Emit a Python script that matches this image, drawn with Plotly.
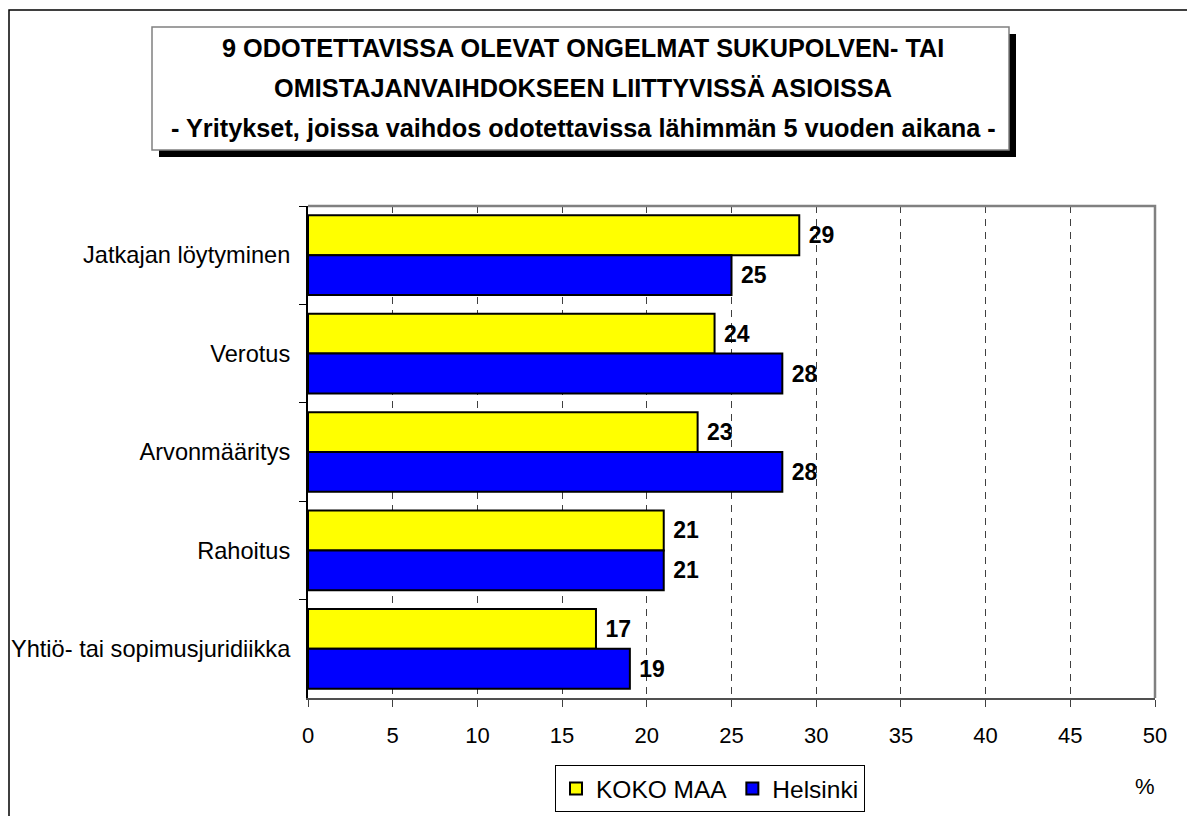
import plotly.graph_objects as go

categories = ["Jatkajan löytyminen", "Verotus", "Arvonmääritys", "Rahoitus", "Yhtiö- tai sopimusjuridiikka"]
koko_maa = [29, 24, 23, 21, 17]
helsinki = [25, 28, 28, 21, 19]
series_names = ["KOKO MAA", "Helsinki"]
title_lines = [
    "9 ODOTETTAVISSA OLEVAT ONGELMAT SUKUPOLVEN- TAI",
    "OMISTAJANVAIHDOKSEEN LIITTYVISSÄ ASIOISSA",
    "- Yritykset, joissa vaihdos odotettavissa lähimmän 5 vuoden aikana -",
]
x_ticks = list(range(0, 55, 5))

FONT = "Liberation Sans, Arial, sans-serif"
OFF = 8  # default page body margin
W, H = 1195 - OFF, 816 - OFF
# plot area in page pixels
L, R, T, B = 308, 1155, 206, 698


def px(x):
    return (x - L) / (R - L)


def py(y):
    return (B - y) / (B - T)


fig = go.Figure()
for name, vals, col in [(series_names[0], koko_maa, "#FFFF00"), (series_names[1], helsinki, "#0000FF")]:
    fig.add_trace(go.Bar(
        y=categories, x=vals, name=name, orientation="h",
        marker=dict(color=col, line=dict(color="black", width=2)),
        text=vals, texttemplate=" %{x}", textposition="outside",
        textfont=dict(family=FONT, size=23, color="black", weight="bold"),
        constraintext="none", cliponaxis=False,
    ))

shapes = [
    # outer chart border
    dict(type="rect", xref="paper", yref="paper", x0=px(9), x1=px(1191), y0=py(830), y1=py(10),
         line=dict(color="black", width=1.5), fillcolor="rgba(0,0,0,0)", layer="below"),
    # title shadow
    dict(type="rect", xref="paper", yref="paper", x0=px(159), x1=px(1016), y0=py(157), y1=py(34),
         line=dict(width=0), fillcolor="black", layer="below"),
    # title box
    dict(type="rect", xref="paper", yref="paper", x0=px(152), x1=px(1009), y0=py(150), y1=py(27),
         line=dict(color="#808080", width=1.5), fillcolor="white", layer="below"),
    # plot area top/right border
    dict(type="path", xref="paper", yref="paper",
         path="M 0,1 L 1,1 L 1,0", line=dict(color="#808080", width=2.5), layer="above"),
]

annotations = []
for i, line in enumerate(title_lines):
    annotations.append(dict(
        text=f"<b>{line}</b>", xref="paper", yref="paper", x=px(583), y=py(48 + 40 * i),
        xanchor="center", yanchor="middle", showarrow=False,
        font=dict(family=FONT, size=25.3, color="black"),
    ))
annotations.append(dict(
    text="%", xref="paper", yref="paper", x=px(1145), y=py(786),
    xanchor="center", yanchor="middle", showarrow=False,
    font=dict(family=FONT, size=22, color="black"),
))

fig.update_layout(
    width=W, height=H,
    margin=dict(l=L - OFF, r=W - (R - OFF), t=T - OFF, b=H - (B - OFF), autoexpand=False),
    paper_bgcolor="white", plot_bgcolor="white",
    barmode="group", bargap=0.19, bargroupgap=0,
    font=dict(family=FONT, color="black"),
    showlegend=True,
    legend=dict(
        orientation="h", x=px(555), y=py(765), xanchor="left", yanchor="top",
        bordercolor="black", borderwidth=1, bgcolor="white",
        font=dict(family=FONT, size=24.5, color="black"),
        itemwidth=30, tracegroupgap=0,
    ),
    xaxis=dict(
        range=[0, 50], tickvals=x_ticks, ticktext=[str(v) for v in x_ticks],
        showgrid=True, gridcolor="#404040", gridwidth=1, griddash="7px,6px",
        showline=True, linecolor="#505050", linewidth=1.5,
        ticks="outside", ticklen=7, tickcolor="#404040", tickwidth=1,
        tickfont=dict(family=FONT, size=22, color="black"),
        ticklabelstandoff=10, zeroline=False, fixedrange=True,
    ),
    yaxis=dict(
        autorange="reversed", showgrid=False, showline=True, linecolor="black", linewidth=2,
        ticks="outside", ticklen=7, tickcolor="black", tickwidth=1, tickson="boundaries",
        tickfont=dict(family=FONT, size=23.6, color="black"),
        ticklabelstandoff=11, fixedrange=True,
    ),
    shapes=shapes, annotations=annotations,
)

fig.write_html("out.html")
